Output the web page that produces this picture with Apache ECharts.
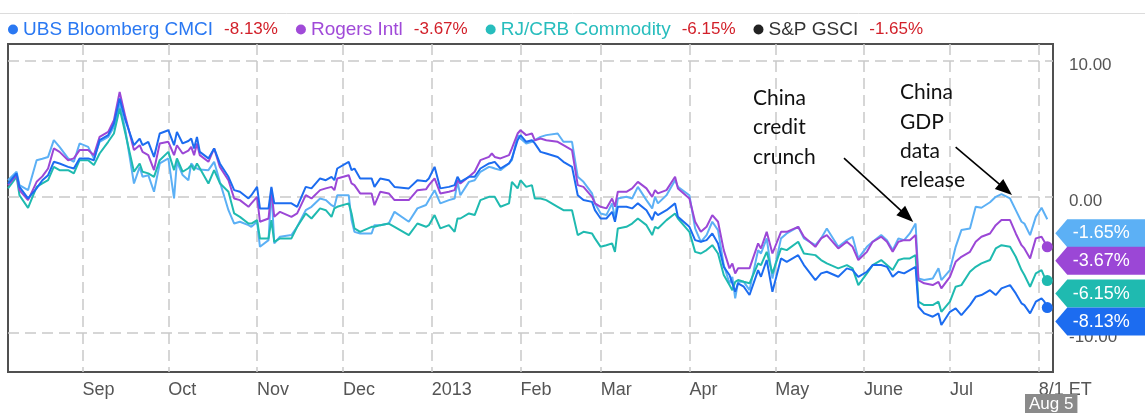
<!DOCTYPE html>
<html>
<head>
<meta charset="utf-8">
<script src="https://cdn.jsdelivr.net/npm/echarts@6/dist/echarts.min.js"></script>
<style>
  html, body { margin: 0; padding: 0; background: #fff; }
  #chart { width: 1145px; height: 413px; }
</style>
</head>
<body>
<div id="chart"></div>
<script>
// % change since Aug 6 2012
var dates = [
  '2012-08-06','2012-08-09','2012-08-10','2012-08-13','2012-08-16','2012-08-18','2012-08-20','2012-08-22','2012-08-24','2012-08-27','2012-08-29','2012-08-31',
  '2012-09-03','2012-09-05','2012-09-07','2012-09-10','2012-09-12','2012-09-14','2012-09-16','2012-09-19','2012-09-21','2012-09-22','2012-09-24','2012-09-26','2012-09-28',
  '2012-10-01','2012-10-03','2012-10-04','2012-10-06','2012-10-08','2012-10-09','2012-10-10','2012-10-11','2012-10-12','2012-10-15','2012-10-17','2012-10-19',
  '2012-10-22','2012-10-24','2012-10-26','2012-10-29','2012-10-30',
  '2012-11-01','2012-11-02','2012-11-05','2012-11-06','2012-11-07','2012-11-09','2012-11-13','2012-11-15','2012-11-18','2012-11-20','2012-11-23','2012-11-25','2012-11-27','2012-11-28','2012-11-29',
  '2012-12-03','2012-12-04','2012-12-05','2012-12-07','2012-12-11','2012-12-12','2012-12-14','2012-12-17','2012-12-19','2012-12-24','2012-12-27','2012-12-30',
  '2012-12-31','2013-01-02','2013-01-04','2013-01-07','2013-01-09','2013-01-10','2013-01-11','2013-01-14','2013-01-16','2013-01-18',
  '2013-01-21','2013-01-22','2013-01-23','2013-01-25','2013-01-28','2013-01-29','2013-01-31',
  '2013-02-01','2013-02-03','2013-02-05','2013-02-06','2013-02-08','2013-02-10','2013-02-14','2013-02-16','2013-02-19','2013-02-21','2013-02-23','2013-02-26','2013-02-27',
  '2013-03-01','2013-03-03','2013-03-05','2013-03-06','2013-03-07','2013-03-10','2013-03-12','2013-03-14',
  '2013-03-17','2013-03-19','2013-03-20','2013-03-21','2013-03-24','2013-03-27','2013-03-28',
  '2013-04-01','2013-04-03','2013-04-05','2013-04-07','2013-04-09','2013-04-11','2013-04-13','2013-04-15','2013-04-16','2013-04-17','2013-04-18','2013-04-20','2013-04-22','2013-04-25','2013-04-26','2013-04-28','2013-04-30',
  '2013-05-03','2013-05-05','2013-05-09','2013-05-11','2013-05-15','2013-05-17','2013-05-19','2013-05-23','2013-05-26',
  '2013-05-28','2013-05-30',
  '2013-06-02','2013-06-04','2013-06-07','2013-06-09','2013-06-11','2013-06-13','2013-06-15','2013-06-17','2013-06-19','2013-06-20','2013-06-22','2013-06-25','2013-06-27','2013-06-28',
  '2013-07-01','2013-07-03','2013-07-05','2013-07-08','2013-07-10','2013-07-12','2013-07-15','2013-07-17','2013-07-19','2013-07-22','2013-07-24','2013-07-26','2013-07-27','2013-07-29','2013-07-31',
  '2013-08-02','2013-08-03','2013-08-04'
]

var ubs = [
  0.98,1.72,0.73,-0.12,0.62,1.22,1.59,2.57,2.45,2.20,2.08,2.82,
  2.82,2.69,4.16,4.53,5.38,7.22,5.63,3.79,4.28,3.79,4.04,2.93,4.65,
  4.89,3.79,4.77,3.92,4.10,4.28,3.55,4.40,3.30,2.82,3.55,2.45,
  1.47,0.49,0.37,-0.12,0.12,
  0.73,-0.85,-0.85,0.73,-0.48,-0.48,-0.48,-0.73,0.73,0.62,1.35,1.22,1.47,1.22,2.08,
  2.57,1.96,2.08,1.35,1.35,0.73,1.35,1.22,0.73,0.62,1.22,1.15,
  1.35,2.20,0.62,0.73,0.86,1.47,1.10,1.47,1.47,2.08,
  2.45,2.50,2.57,2.08,2.45,2.82,4.16,
  4.53,4.04,4.16,3.92,3.30,3.18,2.93,2.57,2.20,0.12,-0.24,-0.37,-0.98,
  -1.59,-1.59,-1.10,-1.83,-0.73,-0.73,-0.85,-0.48,
  -0.98,-1.71,-1.10,-1.34,-0.98,-0.48,-1.47,
  -2.20,-3.18,-3.30,-3.18,-2.69,-3.42,-5.14,-5.74,-6.35,-6.97,-6.35,-6.60,-7.21,-5.38,-5.87,-4.64,-6.97,
  -4.52,-4.77,-4.28,-5.01,-6.11,-5.62,-5.50,-5.87,-5.25,
  -5.38,-5.87,
  -5.50,-5.01,-5.01,-5.14,-5.87,-5.50,-5.62,-5.38,-5.14,-8.07,-8.56,-8.80,-8.56,-9.41,
  -8.44,-8.19,-8.68,-7.95,-7.34,-7.21,-6.85,-7.21,-6.72,-6.48,-7.09,-7.82,-7.95,-8.56,-7.70,
  -7.46,-7.70,-8.13
]

var rogers = [
  0.86,1.59,0.49,-0.24,1.10,1.50,2.08,3.55,3.30,2.69,2.82,3.43,
  3.43,3.06,4.40,4.77,5.63,7.70,5.87,3.43,3.79,3.30,3.06,1.96,3.92,
  4.04,3.06,3.79,3.18,3.40,3.67,3.06,3.92,3.06,2.57,3.55,2.20,
  1.22,-0.12,-0.24,-0.73,-0.48,
  0.00,-1.83,-1.59,0.49,-1.47,-1.10,-1.47,-1.22,0.12,-0.12,0.49,0.62,0.73,0.49,1.35,
  1.59,0.98,0.86,0.25,0.25,-0.61,0.37,0.25,-0.24,-0.24,0.49,0.55,
  0.86,1.35,0.25,0.37,0.49,1.22,0.98,1.47,1.84,2.69,
  2.93,3.18,2.93,2.82,3.06,3.55,4.65,
  4.89,4.53,4.65,4.16,4.28,4.16,4.04,3.79,3.43,0.86,0.73,0.00,-0.48,
  -0.73,-0.85,-0.12,-0.73,0.37,0.37,0.62,1.10,
  0.62,0.00,0.49,0.25,0.49,1.47,0.62,
  -0.12,-1.83,-2.57,-2.20,-1.34,-1.83,-3.91,-5.25,-4.89,-5.62,-5.25,-5.25,-5.25,-3.42,-3.79,-2.57,-4.16,
  -2.57,-2.57,-2.20,-2.93,-3.67,-3.05,-2.81,-3.79,-3.30,
  -3.67,-4.64,
  -4.04,-3.30,-2.93,-3.30,-4.04,-3.30,-3.18,-3.18,-2.81,-6.11,-6.35,-6.48,-6.24,-6.72,
  -5.87,-4.77,-4.40,-4.04,-3.30,-2.93,-2.69,-2.08,-1.71,-1.71,-2.69,-3.55,-3.79,-4.52,-3.05,
  -2.93,-3.30,-3.67
]

var rjcrb = [
  0.62,1.47,0.12,-0.81,0.73,0.98,1.22,2.20,1.96,1.96,1.72,2.69,
  2.69,2.33,3.18,4.04,4.65,6.49,4.65,1.84,2.45,1.84,1.72,1.47,2.69,
  3.30,1.96,2.82,1.84,2.10,2.33,1.96,2.45,2.10,0.98,1.96,1.00,
  0.37,-1.22,-1.47,-1.96,-1.96,
  -1.71,-3.05,-3.05,-1.71,-3.30,-3.05,-3.05,-2.20,-1.22,-1.59,-0.85,-0.98,-1.47,-0.85,-0.73,
  -0.48,-1.22,-2.32,-2.57,-2.20,-2.20,-2.08,-1.96,-2.20,-2.81,-1.96,-2.20,
  -2.08,-1.34,-2.32,-2.08,-2.57,-1.59,-1.59,-1.22,-1.34,-0.24,
  0.00,0.00,0.00,-0.73,-0.48,1.10,0.62,
  1.22,0.73,0.86,-0.12,-0.12,-0.24,-0.73,-0.98,-0.98,-2.81,-2.57,-2.69,-3.05,
  -3.67,-3.55,-3.42,-4.04,-2.32,-2.20,-1.96,-1.59,
  -2.08,-2.81,-2.20,-2.32,-1.71,-1.22,-1.59,
  -2.57,-4.04,-4.16,-3.91,-3.55,-4.16,-5.74,-6.48,-6.85,-6.24,-6.11,-6.24,-6.35,-4.89,-5.01,-4.04,-5.62,
  -3.79,-3.91,-3.30,-4.16,-4.28,-4.64,-4.89,-5.25,-5.01,
  -5.25,-6.48,
  -5.62,-5.01,-4.64,-5.01,-5.38,-4.64,-4.52,-4.52,-4.28,-7.70,-7.95,-7.95,-7.70,-8.44,
  -7.70,-6.60,-6.48,-5.50,-5.14,-4.89,-4.64,-3.79,-3.55,-3.67,-4.40,-5.38,-5.74,-6.60,-5.62,
  -5.38,-5.87,-6.15
]

var gsci = [
  1.22,1.84,0.86,0.49,2.69,2.80,2.93,4.16,3.67,2.82,2.57,3.92,
  3.67,2.82,4.04,4.40,5.14,6.85,4.89,0.98,2.20,1.47,1.59,0.37,2.45,
  2.82,-0.12,2.57,1.60,1.22,2.45,2.20,2.08,2.00,1.96,2.57,1.10,
  -0.98,-1.96,-1.83,-2.08,-2.20,
  -1.83,-3.67,-3.18,0.62,-3.42,-2.93,-2.81,-2.20,-0.98,-0.73,-0.12,-0.24,-0.61,-0.73,0.12,
  0.12,-1.71,-2.57,-2.69,-2.69,-2.08,-2.08,-1.96,-1.10,-1.83,-0.85,-0.60,
  -0.24,0.49,-0.48,-0.24,-0.12,1.10,0.12,1.10,1.22,1.84,
  2.20,2.15,2.08,1.96,2.45,2.69,4.53,
  4.28,3.92,4.04,4.16,4.40,4.53,4.65,4.04,4.04,1.47,1.10,0.25,-0.48,
  -1.22,-1.34,-0.48,-1.59,-0.12,0.00,-0.12,0.73,
  -0.24,-0.85,0.00,-0.48,0.12,1.22,0.73,
  0.12,-2.32,-3.30,-2.81,-1.83,-2.44,-5.01,-6.35,-5.87,-7.45,-6.24,-6.24,-6.85,-3.91,-4.16,-3.05,-5.99,
  -3.05,-2.69,-2.20,-3.05,-3.55,-3.05,-2.32,-3.67,-3.18,
  -2.93,-4.52,
  -3.67,-3.30,-2.81,-3.18,-3.91,-3.05,-3.18,-2.69,-1.96,-5.99,-6.11,-5.99,-5.25,-6.11,
  -5.38,-3.67,-2.44,-2.32,-0.73,-0.80,-0.40,0.00,0.20,-0.12,-0.98,-1.83,-1.96,-2.81,-1.47,
  -0.80,-1.22,-1.65
]

var seriesNames = ['UBS Bloomberg CMCI', 'Rogers Intl', 'RJ/CRB Commodity', 'S&P GSCI']
var monthTicks = ['2012-09-01','2012-10-01','2012-11-01','2012-12-01','2013-01-01','2013-02-01',
  '2013-03-01','2013-04-01','2013-05-01','2013-06-01','2013-07-01','2013-08-01']
var monthLabels = ['Sep','Oct','Nov','Dec','2013','Feb','Mar','Apr','May','June','Jul','8/1 ET']
var yTicks = [-10, 0, 10]

// annotation arrows (start, head) in data space
var arrowFrom = [['2013-05-25', 2.84], ['2013-07-03', 3.65]]
var arrowTo = [['2013-06-16', -1.42], ['2013-07-20 10:00', 0.54]]

var FONT = '"Liberation Sans", Arial, sans-serif'
var lineColors = ['#1c6cf0', '#9b47d6', '#1fbab0', '#5cb0f5']
var legendColors = ['#2a78f2', '#a04ad8', '#27bdbd', '#222222']
var textColors = ['#2a78f2', '#a04ad8', '#27bdbd', '#333333']
var values = [ubs, rogers, rjcrb, gsci]
var tagShift = [14, 14, 13, 14]
var tagPath = 'path://M0,14 L12,0 L92,0 L92,28 L12,28 Z'

function toTime(s) { return echarts.number.parseDate(s).getTime() }
function lastOf(arr) { return arr[arr.length - 1] }

var tickTimes = monthTicks.map(toTime)

var myChart = echarts.init(document.getElementById('chart'))

var series = []
// draw S&P first so the darker lines sit on top
var drawOrder = [3, 2, 1, 0]
for (var k = 0; k < drawOrder.length; k++) {
  var i = drawOrder[k]
  var vals = values[i]
  var pts = []
  for (var j = 0; j < dates.length; j++) pts.push([toTime(dates[j]), vals[j]])
  var endTime = toTime(lastOf(dates))
  var endVal = lastOf(vals)
  var mp = []
  if (i !== 3) {
    mp.push({ coord: [endTime, endVal], symbol: 'circle', symbolSize: 11,
      itemStyle: { color: lineColors[i] }, label: { show: false } })
  }
  mp.push({
    coord: [endTime, endVal], value: endVal,
    symbol: tagPath, symbolSize: [92, 28], symbolOffset: [54, tagShift[i]],
    itemStyle: { color: lineColors[i] },
    label: {
      show: true, position: 'inside', color: '#fff', fontSize: 18, fontFamily: FONT,
      formatter: function(p) { return p.value.toFixed(2) + '%' }
    }
  })
  var s = {
    name: seriesNames[i],
    type: 'line',
    data: pts,
    showSymbol: false,
    symbol: 'none',
    color: lineColors[i],
    lineStyle: { width: 2, color: lineColors[i] },
    markPoint: { silent: true, animation: false, data: mp }
  }
  if (i === 0) {
    s.markLine = {
      silent: true,
      animation: false,
      symbol: ['none', 'triangle'],
      symbolSize: [13, 17],
      label: { show: false },
      lineStyle: { color: '#000', width: 1.6, type: 'solid' },
      data: arrowFrom.map(function(a, n) {
        return [{ coord: [toTime(a[0]), a[1]] }, { coord: [toTime(arrowTo[n][0]), arrowTo[n][1]] }]
      })
    }
  }
  series.push(s)
}

var rich = { v: { color: '#d2202a', fontSize: 17, fontFamily: FONT, padding: [0, 0, 0, 11] } }
for (var r = 0; r < seriesNames.length; r++) {
  rich['n' + r] = { color: textColors[r], fontSize: 19, fontFamily: FONT }
}

var option = {
  animation: false,
  backgroundColor: '#fff',
  legend: {
    top: 15,
    left: 3,
    icon: 'circle',
    itemWidth: 10,
    itemHeight: 10,
    itemGap: 18,
    selectedMode: false,
    data: seriesNames.map(function(n, idx) {
      return { name: n, itemStyle: { color: legendColors[idx] } }
    }),
    formatter: function(name) {
      var idx = seriesNames.indexOf(name)
      return '{n' + idx + '|' + name + '}{v|' + lastOf(values[idx]).toFixed(2) + '%}'
    },
    textStyle: { fontSize: 19, fontFamily: FONT, rich: rich }
  },
  grid: {
    left: 8,
    right: 92,
    top: 44,
    bottom: 41,
    show: true,
    backgroundColor: '#fff',
    borderColor: '#505050',
    borderWidth: 2,
    outerBoundsMode: 'none'
  },
  xAxis: {
    type: 'value',
    min: toTime('2012-08-06'),
    max: toTime('2013-08-06'),
    axisLine: { show: false },
    axisTick: { show: false, customValues: tickTimes },
    axisLabel: {
      customValues: tickTimes,
      align: 'left',
      margin: 9,
      color: '#555',
      fontSize: 18,
      fontFamily: FONT,
      formatter: function(value) {
        var idx = tickTimes.indexOf(value)
        return idx >= 0 ? monthLabels[idx] : ''
      }
    },
    splitLine: { show: true, lineStyle: { color: '#c9c9c9', width: 1.5, type: [11, 6] } }
  },
  yAxis: {
    type: 'value',
    position: 'right',
    min: -12.86,
    max: 11.22,
    axisLine: { show: false },
    axisTick: { show: false, customValues: yTicks },
    axisLabel: {
      customValues: yTicks,
      margin: 16,
      color: '#555',
      fontSize: 17,
      fontFamily: FONT,
      formatter: function(v) { return '{t|' + v.toFixed(2) + '}' },
      rich: { t: { color: '#555', fontSize: 17, fontFamily: FONT, padding: [9, 0, 0, 0] } }
    },
    splitLine: { show: true, lineStyle: { color: '#c9c9c9', width: 1.5, type: [11, 6] } }
  },
  graphic: [
    { type: 'line', shape: { x1: 0, y1: 13.5, x2: 1145, y2: 13.5 }, style: { stroke: '#dcdcdc', lineWidth: 1 } },
    { type: 'text', left: 753, top: 83, z: 50,
      style: { text: 'China\ncredit\ncrunch', font: '21px Lato', lineHeight: 29.5, fill: '#111' } },
    { type: 'text', left: 900, top: 78, z: 50,
      style: { text: 'China\nGDP\ndata\nrelease', font: '21px Lato', lineHeight: 29.3, fill: '#111' } },
    { type: 'text', left: 1025, top: 394, z: 100,
      style: { text: 'Aug 5', fill: '#fff', backgroundColor: '#8a8a8a', padding: [2, 4, 2, 4], font: '17px "Liberation Sans"' } }
  ],
  series: series
}

myChart.setOption(option)
window.addEventListener('resize', function() {
  myChart.resize()
})
</script>
</body>
</html>
